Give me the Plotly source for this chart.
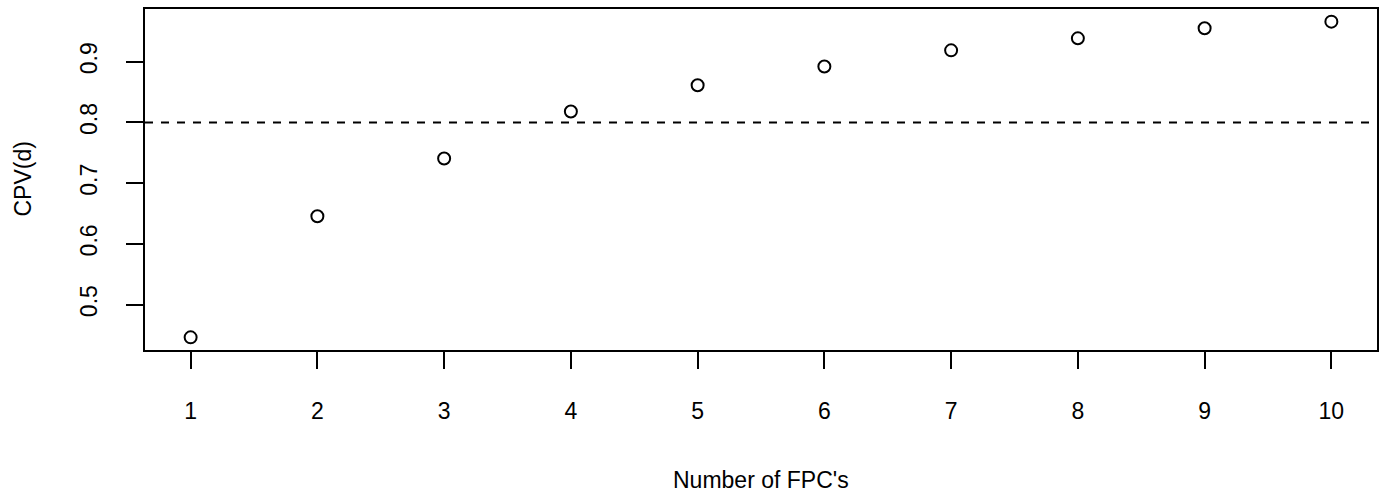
import plotly.graph_objects as go

# Cumulative proportion of variance explained by the first d FPCs
n_fpc = [1, 2, 3, 4, 5, 6, 7, 8, 9, 10]
cpv = [0.446, 0.6455, 0.7407, 0.818, 0.8613, 0.8922, 0.9187, 0.9385, 0.955, 0.966]
threshold = 0.8

x_ticks = [1, 2, 3, 4, 5, 6, 7, 8, 9, 10]
y_ticks = [0.5, 0.6, 0.7, 0.8, 0.9]

FONT = "Liberation Sans, Arial, Helvetica, sans-serif"
FS = 23

# R-style axis extension: 4% of data range on each side
xr = max(n_fpc) - min(n_fpc)
yr = max(cpv) - min(cpv)
x_range = [min(n_fpc) - 0.04 * xr, max(n_fpc) + 0.04 * xr]
y_range = [min(cpv) - 0.04 * yr, max(cpv) + 0.04 * yr]

fig = go.Figure()

fig.add_trace(go.Scatter(
    x=n_fpc, y=cpv, mode="markers",
    marker=dict(symbol="circle-open", size=12, color="black",
                line=dict(width=2, color="black")),
    showlegend=False, hoverinfo="x+y",
))

fig.add_shape(type="line", xref="paper", yref="y", x0=0, x1=1,
              y0=threshold, y1=threshold,
              line=dict(color="black", width=2, dash="8px,8px"))

axis_common = dict(
    showline=True, linecolor="black", linewidth=2, mirror=True,
    ticks="outside", ticklen=17, tickwidth=2, tickcolor="black",
    showgrid=False, zeroline=False,
    tickfont=dict(family=FONT, size=FS, color="black"),
)

fig.update_xaxes(range=x_range, tickvals=x_ticks,
                 ticktext=[str(v) for v in x_ticks],
                 ticklabelstandoff=22, **axis_common)
fig.update_yaxes(range=y_range, tickvals=y_ticks,
                 ticktext=[f"{v:.1f}" for v in y_ticks],
                 tickangle=-90, ticklabelstandoff=20, **axis_common)

fig.add_annotation(text="Number of FPC's", xref="paper", yref="paper",
                   x=0.5, y=0, xanchor="center", yanchor="middle",
                   yshift=-130, showarrow=False,
                   font=dict(family=FONT, size=FS, color="black"))
fig.add_annotation(text="CPV(d)", xref="paper", yref="paper",
                   x=0, y=0.5, xanchor="center", yanchor="middle",
                   xshift=-123, textangle=-90, showarrow=False,
                   font=dict(family=FONT, size=FS, color="black"))

fig.update_layout(
    width=1383, height=496,
    margin=dict(l=145, r=4, t=9, b=146),
    paper_bgcolor="white", plot_bgcolor="white",
    font=dict(family=FONT, size=FS, color="black"),
)

fig.write_html("out.html")
